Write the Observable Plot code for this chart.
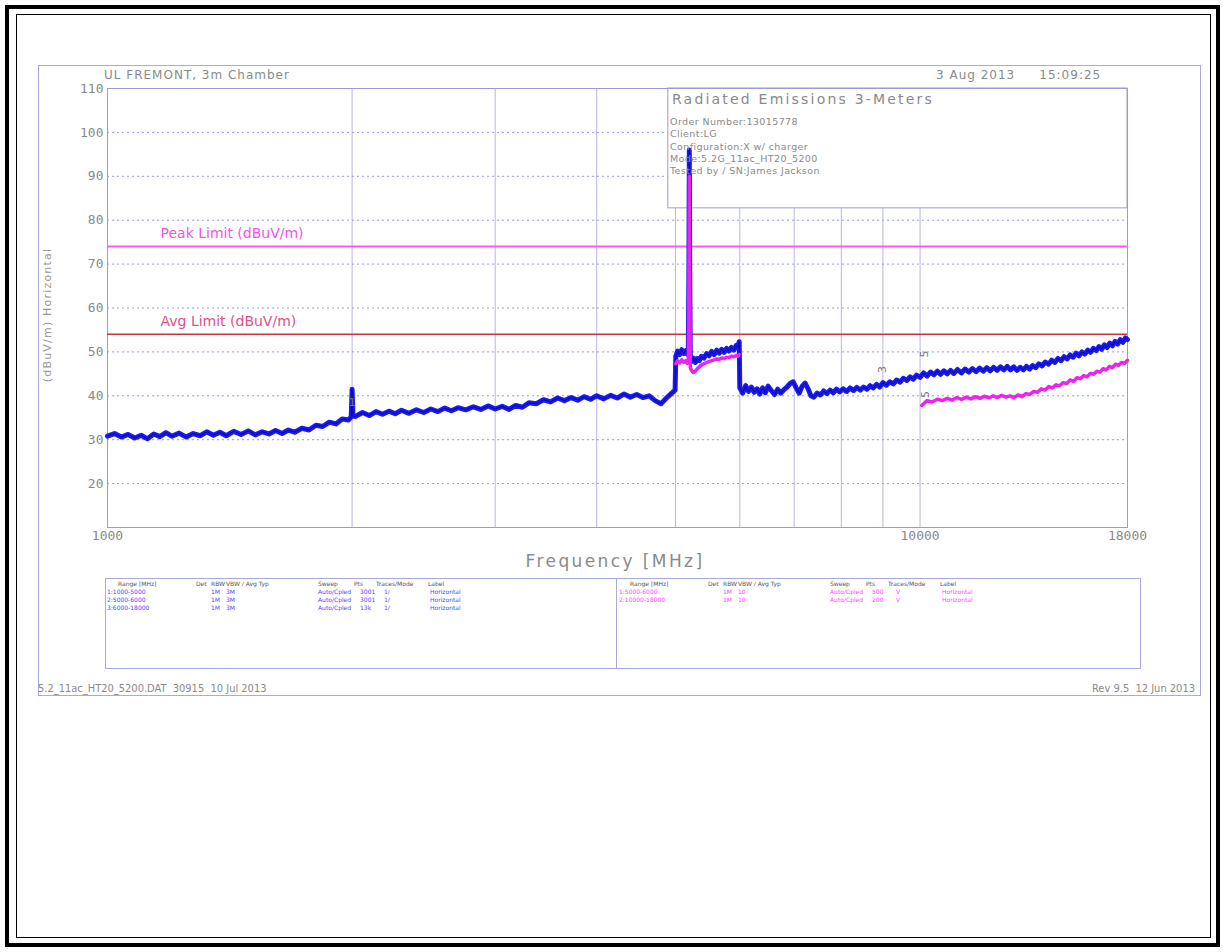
<!DOCTYPE html>
<html><head><meta charset="utf-8">
<script src="https://cdn.jsdelivr.net/npm/d3@7"></script>
<script src="https://cdn.jsdelivr.net/npm/@observablehq/plot@0.6"></script>
<style>
body{margin:0;background:#fff;}
#wrap{position:relative;width:1225px;height:952px;overflow:hidden;font-family:"DejaVu Sans",sans-serif;color:#8a8a8a;}
#wrap svg{position:absolute;left:0;top:0;}
</style></head><body><div id="wrap"></div><script>
// ---------------- data ----------------
const gridFreqs = [2000,3000,4000,5000,6000,7000,8000,9000,10000];
const gridDb = [20,30,40,50,60,70,80,90,100];
const yTickLabels = [20,30,40,50,60,70,80,90,100,110];
const xTickLabels = [1000,10000,18000];
const peakLimit = 74;
const avgLimit = 54;
const limitLabels = [
  {db: 74, text: "Peak Limit (dBuV/m)", color: "#ee55ee"},
  {db: 54, text: "Avg Limit (dBuV/m)", color: "#e0508a"}
];
const infoBox = [{f1: 4900, f2: 18000, db1: 82.7, db2: 110}];

// Peak trace (blue) [MHz, dBuV/m]
const peakTrace = [
 [1000,30.8],[1020,31.4],[1040,30.6],[1060,31.2],[1080,30.4],[1100,31.0],[1120,30.2],[1140,31.3],[1160,30.7],[1180,31.6],
 [1200,30.8],[1225,31.5],[1250,30.6],[1275,31.4],[1300,30.9],[1325,31.8],[1350,31.0],[1375,31.7],[1400,30.9],[1430,31.9],
 [1460,31.2],[1490,32.0],[1520,31.1],[1550,31.8],[1580,31.3],[1610,32.1],[1640,31.4],[1670,32.2],[1700,31.7],[1735,32.6],
 [1770,32.2],[1805,33.3],[1840,33.0],[1875,34.0],[1910,33.6],[1945,34.7],[1980,34.5],[1995,35.2],[2000,41.5],[2005,35.4],
 [2020,35.3],[2060,36.2],[2100,35.5],[2140,36.4],[2180,35.8],[2220,36.5],[2260,35.9],[2300,36.7],[2350,36.0],[2400,36.8],
 [2450,36.2],[2500,37.0],[2550,36.4],[2600,37.2],[2650,36.6],[2700,37.3],[2760,36.8],[2820,37.5],[2880,36.9],[2940,37.7],
 [3000,37.0],[3060,37.6],[3120,36.9],[3180,37.8],[3240,37.4],[3300,38.4],[3370,38.2],[3440,39.1],[3510,38.6],[3580,39.5],
 [3650,38.9],[3720,39.6],[3790,39.0],[3860,39.8],[3930,39.2],[4000,40.0],[4080,39.3],[4160,40.1],[4240,39.5],[4320,40.4],
 [4400,39.7],[4480,40.3],[4560,39.6],[4640,40.0],[4720,38.9],[4800,38.2],[4880,39.6],[4960,40.8],[4995,41.3],
 [5005,49.0],[5030,50.2],[5060,49.4],[5090,50.5],[5120,49.6],[5150,50.3],[5170,49.5],[5185,50.5],[5195,70],[5200,96],
 [5205,70],[5215,48.5],[5230,47.8],[5260,48.6],[5290,47.6],[5320,48.5],[5350,48.0],[5380,49.0],[5420,48.6],[5460,49.6],
 [5500,49.1],[5540,50.1],[5580,49.4],[5620,50.4],[5660,49.7],[5700,50.6],[5740,49.9],[5780,50.8],[5820,50.2],[5860,51.0],
 [5900,50.4],[5940,51.5],[5970,51.0],[5990,52.3],
 [6000,41.8],[6050,40.6],[6100,42.3],[6150,41.0],[6200,42.0],[6250,40.8],[6300,41.6],[6350,40.4],[6400,41.8],[6450,40.7],
 [6500,42.2],[6560,41.2],[6620,40.3],[6680,41.5],[6740,40.6],[6800,41.4],[6860,42.0],[6920,42.8],[6980,43.2],[7040,41.8],
 [7100,40.6],[7160,42.2],[7220,42.9],[7280,41.6],[7340,40.0],[7400,39.7],[7470,40.6],[7540,40.2],[7610,41.1],[7680,40.5],
 [7750,41.3],[7820,40.7],[7890,41.5],[7960,40.9],[8040,41.6],[8120,41.0],[8200,41.8],[8280,41.2],[8360,41.9],[8440,41.3],
 [8520,42.0],[8600,41.5],[8680,42.3],[8760,41.8],[8840,42.6],[8920,42.0],[9000,43.0],[9090,42.4],[9180,43.2],[9270,42.7],
 [9360,43.6],[9450,43.1],[9540,44.0],[9630,43.5],[9720,44.3],[9810,43.8],[9900,44.7],[10000,44.2],[10100,45.2],[10200,44.5],
 [10300,45.4],[10400,44.8],[10500,45.6],[10600,44.9],[10700,45.7],[10800,45.0],[10900,45.8],[11000,45.1],[11120,46.0],[11240,45.2],
 [11360,46.1],[11480,45.4],[11600,46.2],[11720,45.5],[11840,46.3],[11960,45.6],[12080,46.4],[12200,45.7],[12320,46.5],[12440,45.8],
 [12560,46.6],[12680,45.9],[12800,46.7],[12920,45.9],[13040,46.6],[13160,45.8],[13280,46.5],[13400,45.9],[13520,46.7],[13640,46.1],
 [13760,46.9],[13880,46.4],[14000,47.3],[14130,46.8],[14260,47.7],[14390,47.2],[14520,48.1],[14650,47.6],[14780,48.5],[14910,48.0],
 [15040,48.9],[15170,48.4],[15300,49.3],[15430,48.8],[15560,49.7],[15690,49.1],[15820,50.0],[15950,49.5],[16080,50.4],[16210,49.9],
 [16340,50.8],[16470,50.3],[16600,51.2],[16730,50.6],[16860,51.6],[16990,51.0],[17120,52.0],[17250,51.4],[17380,52.4],[17510,51.8],
 [17640,52.8],[17770,52.2],[17900,53.2],[18000,52.8]
];

// Average trace (magenta), band 5000-6000 MHz
const avgBandTrace = [
 [5005,47.3],[5030,48.0],[5060,47.5],[5090,48.2],[5120,47.6],[5150,48.0],[5170,47.4],[5185,47.8],[5195,68],[5200,90],
 [5205,68],[5215,46.5],[5230,45.8],[5260,45.3],[5290,45.6],[5320,46.2],[5350,46.6],[5380,47.0],[5420,47.3],[5460,47.6],
 [5500,47.8],[5540,48.0],[5580,48.2],[5620,48.4],[5660,48.3],[5700,48.6],[5740,48.5],[5780,48.8],[5820,48.7],[5860,49.0],
 [5900,48.9],[5940,49.2],[5970,49.0],[5990,49.4]
];
// Average trace (magenta), 10000-18000 MHz
const avgHighTrace = [
 [10050,37.8],[10200,38.9],[10350,38.6],[10500,39.2],[10650,38.9],[10800,39.4],[10950,39.0],[11100,39.6],[11250,39.2],[11400,39.7],
 [11550,39.3],[11700,39.8],[11850,39.4],[12000,39.9],[12150,39.5],[12300,40.0],[12450,39.6],[12600,40.1],[12750,39.7],[12900,40.0],
 [13050,39.6],[13200,40.2],[13350,39.8],[13500,40.5],[13650,40.3],[13800,41.0],[13950,40.8],[14100,41.6],[14250,41.3],[14400,42.1],
 [14550,41.8],[14700,42.5],[14850,42.3],[15000,43.0],[15150,42.8],[15300,43.6],[15450,43.3],[15600,44.1],[15750,43.9],[15900,44.6],
 [16050,44.3],[16200,45.1],[16350,44.9],[16500,45.6],[16650,45.4],[16800,46.2],[16950,45.9],[17100,46.7],[17250,46.4],[17400,47.2],
 [17550,46.9],[17700,47.6],[17850,47.4],[18000,48.1]
];
const markers = [
  {f: 2000, db: 38.5, label: "1", rot: 0},
  {f: 9000, db: 46, label: "3", rot: -90},
  {f: 10120, db: 49.5, label: "5", rot: -90},
  {f: 10150, db: 40.3, label: "5", rot: -90}
];

// table texts
const tableHeader = ["Range [MHz]","Det","RBW","VBW / Avg Typ","Sweep","Pts","Traces/Mode","Label"];
const peakRows = [
  ["1:1000-5000","PK","1M","3M","Auto/Cpled","3001","1/","Horizontal"],
  ["2:5000-6000","PK","1M","3M","Auto/Cpled","3001","1/","Horizontal"],
  ["3:6000-18000","PK","1M","3M","Auto/Cpled","13k","1/","Horizontal"]
];
const avgRows = [
  ["1:5000-6000","PK","1M","10","Auto/Cpled","500","V","Horizontal"],
  ["2:10000-18000","PK","1M","10","Auto/Cpled","200","V","Horizontal"]
];
const infoLines = ["Order Number:13015778","Client:LG","Configuration:X w/ charger","Mode:5.2G_11ac_HT20_5200","Tested by / SN:James Jackson"];

// ---------------- build ----------------
const toRows = (arr) => arr.map(([f, db]) => ({f, db}));
const peakData = toRows(peakTrace);
const avgData = [...toRows(avgBandTrace).map(d => ({...d, seg: "band"})), ...toRows(avgHighTrace).map(d => ({...d, seg: "high"}))];

const gray = "#8a8a8a";
const gridColor = "#b6b6e6";
const frameColor = "#9c9cd2";

const chart = Plot.plot({
  width: 1225, height: 952,
  marginTop: 88, marginBottom: 425, marginLeft: 107, marginRight: 98,
  style: {background: "transparent", fontFamily: "DejaVu Sans Mono, monospace", color: gray},
  x: {type: "log", domain: [1000, 18000]},
  y: {domain: [10, 110]},
  marks: [
    Plot.gridX(gridFreqs, {stroke: gridColor, strokeOpacity: 1, strokeWidth: 1}),
    Plot.gridY(gridDb, {stroke: "#9a9ad6", strokeOpacity: 1, strokeDasharray: "2,3"}),
    Plot.rect(infoBox, {x1: "f1", x2: "f2", y1: "db1", y2: "db2", fill: "white", stroke: frameColor}),
    Plot.frame({stroke: frameColor}),
    Plot.ruleY([peakLimit], {stroke: "#ff55ff", strokeWidth: 2}),
    Plot.ruleY([avgLimit], {stroke: "#cc3340", strokeWidth: 1.5}),
    Plot.text(limitLabels, {y: "db", text: "text", fill: "color", frameAnchor: "left", textAnchor: "start", dx: 53, dy: -13, fontSize: 14, fontFamily: "DejaVu Sans", letterSpacing: "1px"}),
    Plot.line(peakData, {x: "f", y: "db", stroke: "#1a1aee", strokeWidth: 5, strokeLinejoin: "round"}),
    Plot.line(peakData, {x: "f", y: "db", stroke: "#0808a8", strokeWidth: 1}),
    Plot.line(avgData, {x: "f", y: "db", z: "seg", stroke: "#ee22ee", strokeWidth: 3.5}),
    Plot.text(markers, {x: "f", y: "db", text: "label", rotate: "rot", fill: "#777", fontSize: 11, fontFamily: "DejaVu Sans"}),
    Plot.axisY(yTickLabels, {tickSize: 0, tickPadding: 4, fontSize: 13, fill: gray, label: null}),
    Plot.axisX(xTickLabels, {tickSize: 0, tickPadding: 3, fontSize: 13, fill: gray, label: null, tickFormat: d => String(d)})
  ]
});

const wrap = document.getElementById("wrap");
wrap.appendChild(chart);

function add(html, css) {
  const el = document.createElement("div");
  el.innerHTML = html;
  Object.assign(el.style, css);
  wrap.appendChild(el);
  return el;
}
// page borders
add("", {position: "absolute", left: "5px", top: "5px", width: "1215px", height: "942px", border: "4px solid #000", boxSizing: "border-box"});
add("", {position: "absolute", left: "16px", top: "14px", width: "1195px", height: "924px", border: "1px solid #000", boxSizing: "border-box"});
// chart outer frame
add("", {position: "absolute", left: "38px", top: "65px", width: "1163px", height: "631px", border: "1px solid #aaaade", boxSizing: "border-box"});
// header
add("UL FREMONT, 3m Chamber", {position: "absolute", left: "104px", top: "68px", fontSize: "12px", letterSpacing: "1px", color: gray, whiteSpace: "nowrap"});
add("3 Aug 2013&nbsp;&nbsp;&nbsp;&nbsp;&nbsp;15:09:25", {position: "absolute", left: "936px", top: "68px", fontSize: "12px", letterSpacing: "1px", color: gray, whiteSpace: "nowrap"});
// info box text
add("Radiated Emissions 3-Meters", {position: "absolute", left: "672px", top: "91px", fontSize: "14px", letterSpacing: "2.2px", color: gray, whiteSpace: "nowrap"});
infoLines.forEach((t, i) => add(t, {position: "absolute", left: "670px", top: (116 + i * 12.3) + "px", fontSize: "9.5px", letterSpacing: "0.4px", color: gray, whiteSpace: "nowrap"}));
// axis titles
add("(dBuV/m) Horizontal", {position: "absolute", left: "47px", top: "315px", fontSize: "11px", letterSpacing: "1.2px", color: "#999", whiteSpace: "nowrap", transform: "translate(-50%,-50%) rotate(-90deg)"});
add("Frequency [MHz]", {position: "absolute", left: "615px", top: "561px", fontSize: "17px", letterSpacing: "2.4px", color: gray, whiteSpace: "nowrap", transform: "translate(-50%,-50%)"});
// table
add("", {position: "absolute", left: "105px", top: "578px", width: "1036px", height: "91px", border: "1px solid #aaaade", boxSizing: "border-box"});
add("", {position: "absolute", left: "616px", top: "578px", width: "1px", height: "91px", background: "#aaaade"});
const colX = [118, 196, 211, 226, 318, 354, 376, 428];
const rowColX = [107, 198, 211, 226, 318, 360, 384, 430];
function drawTable(offset, rows, color) {
  tableHeader.forEach((t, i) => add(t, {position: "absolute", left: (colX[i] + offset) + "px", top: "580px", fontSize: "6px", color: "#555", whiteSpace: "nowrap"}));
  rows.forEach((r, j) => r.forEach((t, i) => {
    if (i === 1) return;
    add(t, {position: "absolute", left: (rowColX[i] + offset) + "px", top: (588 + j * 8) + "px", fontSize: "6px", color, whiteSpace: "nowrap"});
  }));
}
drawTable(0, peakRows, "#4a4aff");
drawTable(512, avgRows, "#ff44ff");
// footer
add("5.2_11ac_HT20_5200.DAT&nbsp; 30915&nbsp; 10 Jul 2013", {position: "absolute", left: "38px", top: "682px", fontSize: "11px", color: gray, whiteSpace: "nowrap", fontFamily: "DejaVu Sans Condensed, DejaVu Sans"});
add("Rev 9.5&nbsp; 12 Jun 2013", {position: "absolute", right: "30px", top: "682px", fontSize: "11px", color: gray, whiteSpace: "nowrap", fontFamily: "DejaVu Sans Condensed, DejaVu Sans"});
</script></body></html>
